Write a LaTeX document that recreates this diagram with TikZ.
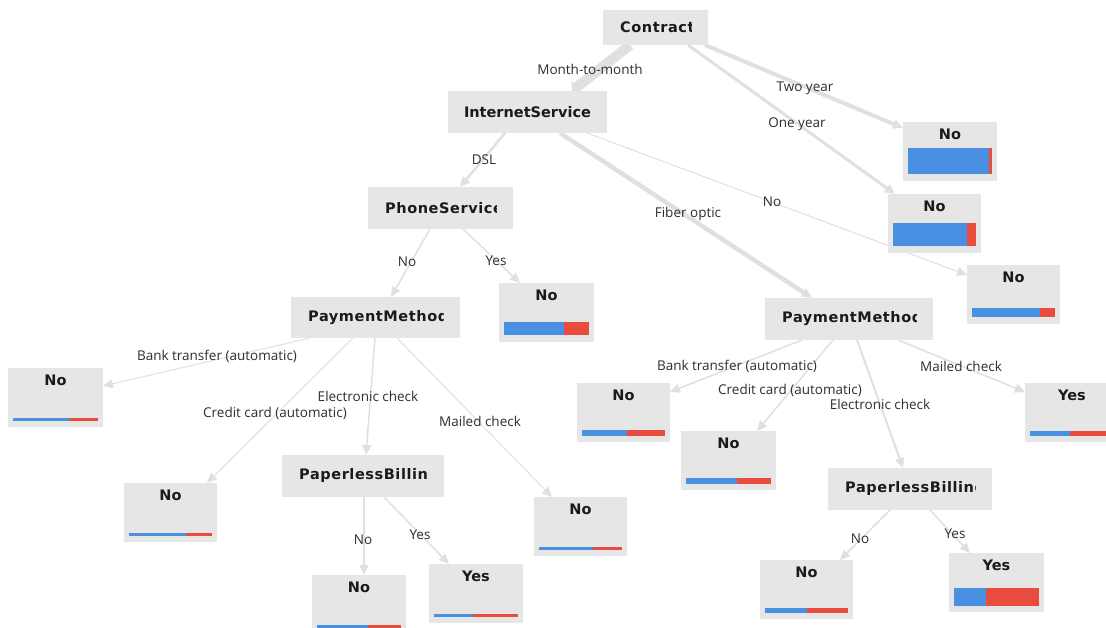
\documentclass[tikz,border=0pt]{standalone}
\usepackage{fontspec}
\setmainfont{Open Sans}
\newfontfamily\nodefont{DejaVu Sans}
\newfontfamily\nodefontwide{DejaVu Sans}[LetterSpace=4]
\usetikzlibrary{arrows.meta,calc}

\definecolor{boxgray}{HTML}{E6E6E6}
\definecolor{edgegray}{HTML}{E0E0E0}
\definecolor{barblue}{HTML}{4A90E2}
\definecolor{barred}{HTML}{E74C3C}
\definecolor{labelink}{HTML}{2E2E2E}
\definecolor{nodeink}{HTML}{1A1A1A}

\pgfdeclarelayer{back}
\pgfdeclarelayer{edges}
\pgfsetlayers{back,edges,main}

\tikzset{
  splitbox/.style={fill=boxgray, draw=none, anchor=north west, inner sep=0pt, outer sep=0pt},
  leafbox/.style={fill=boxgray, draw=none, anchor=north west, inner sep=0pt, outer sep=0pt, minimum height=59pt},
  nodetext/.style={font=\nodefont\bfseries\fontsize{14.5}{16}\selectfont, text=nodeink, inner sep=0pt},
  widetext/.style={font=\nodefontwide\bfseries\fontsize{14.5}{16}\selectfont, text=nodeink, inner sep=0pt},
  edgelabel/.style={font=\fontsize{13.5}{15}\selectfont, text=labelink, inner sep=0pt},
  link/.style={draw=edgegray, line width=#1, -{Triangle[length=10pt,width=9pt]}},
  link/.default=1.2pt,
}

% split node whose attribute name fits: name, x, y, width, height, attribute
\newcommand\treesplitfit[6]{%
  \node[splitbox, minimum width=#4pt, minimum height=#5pt] (#1) at (#2,#3) {};
  \node[nodetext] (#1-t) at (#1.center) {#6};
}
% split node whose attribute name runs past the text area and is cut off
\newcommand\treesplit[6]{%
  \node[splitbox, minimum width=#4pt, minimum height=#5pt] (#1) at (#2,#3) {};
  \begin{scope}
    \clip ($(#1.south west)+(17,0)$) rectangle ($(#1.north east)+(-17,0)$);
    \node[widetext, anchor=west] (#1-t) at ($(#1.west)+(17,0)$) {#6};
  \end{scope}
}
% leaf: name, x, y, width, class, blue share, bar height
\newcommand\treeleaf[7]{%
  \node[leafbox, minimum width=#4pt] (#1) at (#2,#3) {};
  \node[nodetext] (#1-t) at ($(#1.north)+(0,12)$) {#5};
  \pgfmathsetmacro\barw{#4-10}%
  \pgfmathsetmacro\bluew{\barw*#6}%
  \fill[barblue] ($(#1.north west)+(5,52.5)$) rectangle ++({\bluew},{-#7});
  \fill[barred] ($(#1.north west)+({5+\bluew},52.5)$) rectangle ++({\barw-\bluew},{-#7});
}

\begin{document}
\begin{tikzpicture}[x=1pt,y=-1pt]
\useasboundingbox (0,0) rectangle (1106,628);
\begin{pgfonlayer}{back}
  \fill[white] (0,0) rectangle (1106,628);
\end{pgfonlayer}

% split nodes
\treesplit{contract}{603}{10}{105}{35}{Contract}
\treesplitfit{is}{448}{91}{159}{42}{InternetService}
\treesplit{phone}{368}{187}{145}{42}{PhoneService}
\treesplit{payl}{291}{297}{169}{41}{PaymentMethod}
\treesplit{payr}{765}{298}{168}{42}{PaymentMethod}
\treesplit{pbl}{282}{455}{162}{42}{PaperlessBilling}
\treesplit{pbr}{828}{468}{164}{42}{PaperlessBilling}

% leaves
\treeleaf{ltwo}{903}{122}{94}{No}{0.964}{26}
\treeleaf{lone}{888}{194}{93}{No}{0.89}{23}
\treeleaf{lino}{967}{265}{93}{No}{0.82}{9}
\treeleaf{lpyes}{499}{283}{95}{No}{0.70}{13}
\treeleaf{llbank}{8}{368}{95}{No}{0.66}{3}
\treeleaf{llcredit}{124}{483}{93}{No}{0.69}{3}
\treeleaf{llmailed}{534}{497}{93}{No}{0.65}{3}
\treeleaf{lplno}{312}{575}{94}{No}{0.61}{3}
\treeleaf{lplyes}{429}{564}{94}{Yes}{0.46}{3}
\treeleaf{lrbank}{577}{383}{93}{No}{0.54}{6}
\treeleaf{lrcredit}{681}{431}{95}{No}{0.60}{6}
\treeleaf{lrmailed}{1025}{383}{94}{Yes}{0.48}{5}
\treeleaf{lprno}{760}{560}{93}{No}{0.51}{5}
\treeleaf{lpryes}{949}{553}{95}{Yes}{0.38}{18}

% connectors
\begin{pgfonlayer}{edges}
  \draw[draw=edgegray, line width=10pt, -{Triangle[length=6pt,width=16pt]}]
    ([xshift=27pt]contract.south west) -- ([xshift=124pt]is.north west);
  \draw[link=4pt] ([xshift=102pt]contract.south west) -- ([yshift=-6pt]ltwo.north west);
  \draw[link=3pt] ([xshift=85pt]contract.south west) -- ([xshift=7pt]lone.north west);
  \draw[link=2.5pt] ([xshift=57pt]is.south west) -- ([xshift=92pt]phone.north west);
  \draw[link=4.5pt] ([xshift=112pt]is.south west) -- ([xshift=47pt]payr.north west);
  \draw[link=1pt] ([xshift=139pt]is.south west) -- ([yshift=-10pt]lino.north west);
  \draw[link=1.5pt] ([xshift=62pt]phone.south west) -- ([xshift=100pt]payl.north west);
  \draw[link=1.5pt] ([xshift=95pt]phone.south west) -- ([xshift=21pt]lpyes.north west);
  \draw[link=1pt] ([xshift=19pt]payl.south west) -- ([yshift=-18pt]llbank.north east);
  \draw[link=1pt] ([xshift=62pt]payl.south west) -- ([xshift=-10pt]llcredit.north east);
  \draw[link=1.5pt] ([xshift=84pt]payl.south west) -- ([xshift=84pt]pbl.north west);
  \draw[link=1pt] ([xshift=106pt]payl.south west) -- ([xshift=18pt]llmailed.north west);
  \draw[link=1.5pt] ([xshift=37pt]payr.south west) -- ([yshift=-9pt]lrbank.north east);
  \draw[link=1.5pt] ([xshift=68pt]payr.south west) -- ([xshift=-19pt]lrcredit.north east);
  \draw[link=2pt] ([xshift=92pt]payr.south west) -- ([xshift=75pt]pbr.north west);
  \draw[link=1.5pt] ([xshift=133pt]payr.south west) -- ([yshift=-9pt]lrmailed.north west);
  \draw[link=1.5pt] ([xshift=62pt]pbr.south west) -- ([xshift=80pt]lprno.north west);
  \draw[link=1.5pt] ([xshift=102pt]pbr.south west) -- ([xshift=21pt]lpryes.north west);
  \draw[link=1.5pt] ([xshift=82pt]pbl.south west) -- ([xshift=52pt]lplno.north west);
  \draw[link=1.5pt] ([xshift=102pt]pbl.south west) -- ([xshift=20pt]lplyes.north west);
\end{pgfonlayer}

% branch labels
\node[edgelabel] (e-m2m) at (590,69) {Month-to-month};
\node[edgelabel] (e-two) at (805,88) {Two year};
\node[edgelabel] (e-one) at (797,124) {One year};
\node[edgelabel] (e-dsl) at (484,160) {DSL};
\node[edgelabel] (e-fib) at (688,214) {Fiber optic};
\node[edgelabel] (e-ino) at (772,202) {No};
\node[edgelabel] (e-pno) at (407,262) {No};
\node[edgelabel] (e-pyes) at (496,261) {Yes};
\node[edgelabel] (e-lbank) at (217,356) {Bank transfer (automatic)};
\node[edgelabel] (e-lelec) at (368,396) {Electronic check};
\node[edgelabel] (e-lcred) at (275,413) {Credit card (automatic)};
\node[edgelabel] (e-lmail) at (480,421) {Mailed check};
\node[edgelabel] (e-rbank) at (737,366) {Bank transfer (automatic)};
\node[edgelabel] (e-rcred) at (790,390) {Credit card (automatic)};
\node[edgelabel] (e-relec) at (880,404) {Electronic check};
\node[edgelabel] (e-rmail) at (961,366) {Mailed check};
\node[edgelabel] (e-blno) at (363,540) {No};
\node[edgelabel] (e-blyes) at (420,535) {Yes};
\node[edgelabel] (e-brno) at (860,539) {No};
\node[edgelabel] (e-bryes) at (955,534) {Yes};
\end{tikzpicture}
\end{document}
